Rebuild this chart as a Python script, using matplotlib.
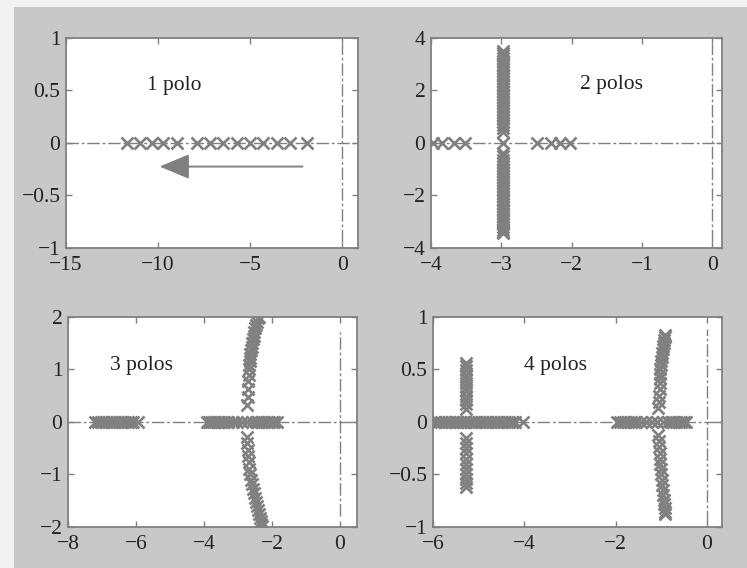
import matplotlib.pyplot as plt
from matplotlib.patches import Rectangle

# ---------------- datos ----------------
# 1 polo
p1_re = [-11.70, -10.98, -10.34, -9.71, -8.98, -7.90, -7.17, -6.45, -5.72,
         -5.00, -4.28, -3.55, -2.83, -1.92]
p1_im = [0.0] * len(p1_re)

# 2 polos
p2_eje_re = [-3.97, -3.84, -3.68, -3.52, -2.97, -2.49, -2.30, -2.16, -2.02]
p2_eje_im = [0.0] * len(p2_eje_re)
p2_rama_im = [0.43, 0.55, 0.68, 0.80, 0.92, 1.03, 1.15, 1.26, 1.38, 1.49,
              1.60, 1.71, 1.82, 1.93, 2.04, 2.15, 2.26, 2.37, 2.48, 2.59,
              2.70, 2.81, 2.92, 3.02, 3.13, 3.23, 3.33, 3.42, 3.48,
              -0.39, -0.51, -0.64, -0.76, -0.88, -1.00, -1.12, -1.23, -1.35,
              -1.46, -1.57, -1.68, -1.79, -1.90, -2.01, -2.12, -2.23, -2.34,
              -2.45, -2.56, -2.67, -2.78, -2.89, -2.99, -3.10, -3.20, -3.30,
              -3.38, -3.44]
p2_rama_re = [-2.97] * len(p2_rama_im)

# 3 polos
p3_eje_re = [-7.20, -7.12, -7.04, -6.96, -6.88, -6.80, -6.72, -6.64, -6.56,
             -6.48, -6.40, -6.32, -6.24, -6.16, -6.08, -5.93,
             -3.92, -3.86, -3.80, -3.74, -3.68, -3.62, -3.56, -3.50, -3.42,
             -3.30, -3.16, -3.02, -2.88, -2.74, -2.60, -2.48, -2.40, -2.32,
             -2.24, -2.16, -2.08, -2.00, -1.93, -1.86]
p3_eje_im = [0.0] * len(p3_eje_re)
p3_sup_re = [-2.74, -2.72, -2.71, -2.70, -2.69, -2.68, -2.67, -2.66, -2.65,
             -2.64, -2.62, -2.60, -2.58, -2.56, -2.54, -2.52, -2.49, -2.46,
             -2.43, -2.40, -2.37]
p3_sup_im = [0.32, 0.48, 0.63, 0.78, 0.90, 1.00, 1.08, 1.15, 1.22, 1.29, 1.36,
             1.43, 1.50, 1.57, 1.64, 1.71, 1.78, 1.85, 1.91, 1.97, 2.00]
p3_inf_re = [-2.75, -2.73, -2.72, -2.70, -2.69, -2.67, -2.64, -2.61, -2.58,
             -2.55, -2.52, -2.49, -2.46, -2.43, -2.40, -2.37, -2.35, -2.33,
             -2.31, -2.30]
p3_inf_im = [-0.29, -0.41, -0.53, -0.65, -0.77, -0.89, -1.00, -1.10, -1.19,
             -1.28, -1.36, -1.44, -1.52, -1.60, -1.67, -1.75, -1.82, -1.89,
             -1.95, -1.98]

# 4 polos
p4_eje_re = [-5.95, -5.89, -5.83, -5.77, -5.71, -5.65, -5.59, -5.53, -5.47,
             -5.41, -5.35, -5.29, -5.23, -5.17, -5.11, -5.05, -4.99, -4.93,
             -4.87, -4.81, -4.75, -4.69, -4.63, -4.57, -4.51, -4.45, -4.39,
             -4.33, -4.27, -4.21, -4.02,
             -1.97, -1.91, -1.85, -1.79, -1.73, -1.67, -1.61, -1.55, -1.45,
             -1.33, -1.21, -1.09, -0.97, -0.86, -0.80, -0.74, -0.68, -0.62,
             -0.56, -0.51, -0.46]
p4_eje_im = [0.0] * len(p4_eje_re)
p4_izq_im = [0.12, 0.17, 0.21, 0.25, 0.29, 0.33, 0.37, 0.41, 0.45, 0.49, 0.53,
             0.56, -0.15, -0.20, -0.25, -0.30, -0.35, -0.40, -0.45, -0.50,
             -0.54, -0.58, -0.62]
p4_izq_re = [-5.28] * len(p4_izq_im)
p4_der_re = [-1.07, -1.06, -1.05, -1.04, -1.04, -1.03, -1.02, -1.02, -1.01,
             -1.00, -0.99, -0.98, -0.97, -0.96, -0.95, -0.94, -0.93, -0.92,
             -1.07, -1.06, -1.05, -1.04, -1.03, -1.02, -1.01, -1.00, -0.99,
             -0.98, -0.97, -0.96, -0.95, -0.94, -0.93, -0.92, -0.92]
p4_der_im = [0.13, 0.19, 0.25, 0.31, 0.37, 0.42, 0.46, 0.50, 0.54, 0.58, 0.62,
             0.66, 0.69, 0.72, 0.75, 0.78, 0.81, 0.83,
             -0.12, -0.18, -0.24, -0.30, -0.35, -0.40, -0.45, -0.50, -0.55,
             -0.60, -0.65, -0.70, -0.74, -0.78, -0.82, -0.86, -0.88]

# ---------------- estilo ----------------
plt.rcParams['font.family'] = ['Liberation Serif', 'DejaVu Serif']
plt.rcParams['font.size'] = 15.5
plt.rcParams['axes.unicode_minus'] = True

gris = '#808080'
texto = '#222222'

fig = plt.figure(figsize=(7.47, 5.68), dpi=100, facecolor='#f2f2f2')
fondo = Rectangle((14 / 747, 0), 1, 1 - 7 / 568, transform=fig.transFigure,
                  facecolor='#c8c8c8', edgecolor='none', zorder=-10)
fig.patches.append(fondo)

posiciones = [
    [0.0884, 0.5634, 0.391, 0.370],
    [0.577, 0.5634, 0.3896, 0.370],
    [0.091, 0.0722, 0.387, 0.370],
    [0.5797, 0.0722, 0.387, 0.370],
]
xlims = [(-15, 0.87), (-4, 0.14), (-8, 0.5), (-6, 0.33)]
ylims = [(-1, 1), (-4, 4), (-2, 2), (-1, 1)]
xticks = [[-15, -10, -5, 0], [-4, -3, -2, -1, 0], [-8, -6, -4, -2, 0], [-6, -4, -2, 0]]
yticks = [[-1, -0.5, 0, 0.5, 1], [-4, -2, 0, 2, 4], [-2, -1, 0, 1, 2], [-1, -0.5, 0, 0.5, 1]]
etiquetas = ['1 polo', '2 polos', '3 polos', '4 polos']
pos_texto = [(-10.6, 0.55), (-1.88, 2.21), (-6.76, 1.08), (-4.0, 0.54)]
vlinea = [(0.03, 0.97), (0.03, 0.97), (0.05, 0.93), (0.02, 0.94)]

datos = [
    [(p1_re, p1_im)],
    [(p2_eje_re, p2_eje_im), (p2_rama_re, p2_rama_im)],
    [(p3_eje_re, p3_eje_im), (p3_sup_re, p3_sup_im), (p3_inf_re, p3_inf_im)],
    [(p4_eje_re, p4_eje_im), (p4_izq_re, p4_izq_im), (p4_der_re, p4_der_im)],
]

for i in range(4):
    ax = fig.add_axes(posiciones[i])
    ax.set_facecolor('white')
    # ejes real e imaginario en linea punto-raya
    ax.axhline(0, color=gris, lw=1.0, dashes=(9, 2, 2, 2), zorder=1)
    ax.axvline(0, ymin=vlinea[i][0], ymax=vlinea[i][1], color=gris, lw=1.0,
               dashes=(9, 2, 2, 2), zorder=1)
    for re, im in datos[i]:
        ax.plot(re, im, linestyle='none', marker='x', color=gris, ms=8, mew=1.9, zorder=3)
    ax.set_xlim(xlims[i])
    ax.set_ylim(ylims[i])
    ax.set_xticks(xticks[i])
    ax.set_yticks(yticks[i])
    ax.set_xticklabels([f'{t:g}'.replace('-', '\u2212') for t in xticks[i]])
    ax.set_yticklabels([f'{t:g}'.replace('-', '\u2212') for t in yticks[i]])
    ax.tick_params(direction='in', length=4, width=1, color=gris, labelcolor=texto,
                   top=True, right=True)
    ax.tick_params(axis='x', pad=6)
    ax.tick_params(axis='y', pad=4)
    for s in ax.spines.values():
        s.set_color(gris)
        s.set_linewidth(1.3)
    ax.text(pos_texto[i][0], pos_texto[i][1], etiquetas[i], color=texto,
            ha='left', va='center', fontsize=15.5)

# flecha del primer panel
ax1 = fig.axes[0]
ax1.annotate('', xy=(-10.07, -0.225), xytext=(-2.0, -0.225),
             arrowprops=dict(arrowstyle='-|>,head_length=1.2,head_width=0.5',
                             color=gris, lw=1.4))

fig.savefig('out.png', dpi=100, facecolor=fig.get_facecolor())
